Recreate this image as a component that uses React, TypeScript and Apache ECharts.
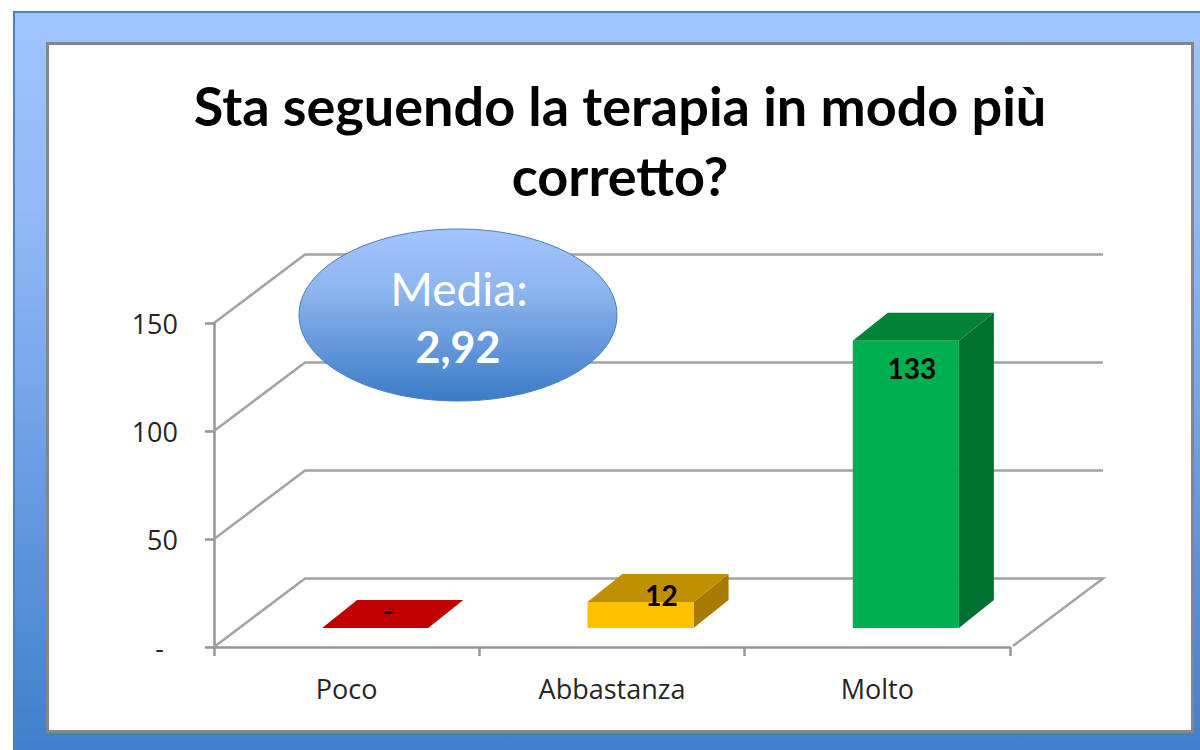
import React, { useEffect, useRef } from "react";
import * as echarts from "echarts";

const titleLines = ["Sta seguendo la terapia in modo più", "corretto?"];
const categories = ["Poco", "Abbastanza", "Molto"];
const values = [0, 12, 133];
const yTicks = [0, 50, 100, 150];
const calloutLabel = "Media:";
const calloutValue = "2,92";
const faceColors = [
  { front: "#c00000", top: "#c00000", side: "#900000" },
  { front: "#ffc000", top: "#bf9000", side: "#a67c00" },
  { front: "#00b050", top: "#008237", side: "#007030" },
];

const fmt = (v: number) => (v === 0 ? "-" : String(v));
const BODY = "'Open Sans', sans-serif";
const HEAD = "Lato, sans-serif";
const GRID = "#a3a3a3";
const AXIS = "#969696";

export default function App() {
  const ref = useRef<HTMLDivElement>(null);
  useEffect(() => {
    const chart = echarts.init(ref.current!, null, { renderer: "svg" });
    chart.setOption({
      animation: false,
      backgroundColor: "#ffffff",
      title: {
        text: titleLines.join("\n"),
        left: 615,
        top: 65,
        textAlign: "center",
        textStyle: { fontFamily: HEAD, fontSize: 54, fontWeight: "bold", color: "#000", lineHeight: 70 },
      },
      grid: { left: 214, right: 190, top: 323, bottom: 103 },
      xAxis: {
        type: "category",
        data: categories,
        axisLine: { lineStyle: { color: AXIS, width: 2.5 } },
        axisTick: { show: true, length: 9, lineStyle: { color: AXIS, width: 2.5 } },
        axisLabel: { margin: 28, fontFamily: BODY, fontSize: 27, color: "#262626" },
      },
      yAxis: {
        type: "value",
        min: 0,
        max: 150,
        interval: 50,
        splitLine: { show: false },
        axisLine: { show: true, lineStyle: { color: AXIS, width: 2.5 } },
        axisTick: { show: true, length: 9, lineStyle: { color: AXIS, width: 2.5 } },
        axisLabel: {
          margin: 36,
          fontFamily: BODY,
          fontSize: 27,
          color: "#262626",
          formatter: (v: number) => (v === 0 ? "{z|-}" : String(v)),
          rich: { z: { padding: [0, 14, 0, 0], fontFamily: BODY, fontSize: 27, color: "#262626" } },
        },
      },
      graphic: [
        {
          type: "rect",
          z: -20,
          silent: true,
          shape: { x: 14, y: 12, width: 1200, height: 760 },
          style: {
            fill: new echarts.graphic.LinearGradient(0, 0, 0, 1, [
              { offset: 0, color: "#9fc4ff" },
              { offset: 0.25, color: "#94baf7" },
              { offset: 1, color: "#3d7cca" },
            ]),
            stroke: "#4f81bd",
            lineWidth: 2,
          },
        },
        {
          type: "rect",
          z: -10,
          silent: true,
          shape: { x: 47.5, y: 43.5, width: 1145, height: 688 },
          style: { fill: "#ffffff", stroke: "#868686", lineWidth: 3 },
        },
        {
          type: "ellipse",
          z: 100,
          silent: true,
          shape: { cx: 458, cy: 315, rx: 159, ry: 86 },
          style: {
            fill: new echarts.graphic.LinearGradient(0, 0, 0, 1, [
              { offset: 0, color: "#a3c4ff" },
              { offset: 0.35, color: "#8fb6ee" },
              { offset: 1, color: "#3a7bc8" },
            ]),
            stroke: "#4a7ebb",
            lineWidth: 1,
          },
        },
        {
          type: "text",
          z: 101,
          silent: true,
          x: 459,
          y: 288,
          style: { text: calloutLabel, fill: "#fff", font: `400 46px ${HEAD}`, textAlign: "center", textVerticalAlign: "middle" },
        },
        {
          type: "text",
          z: 101,
          silent: true,
          x: 458,
          y: 346,
          style: { text: calloutValue, fill: "#fff", font: `700 43px ${HEAD}`, textAlign: "center", textVerticalAlign: "middle" },
        },
      ],
      series: [
        {
          name: "walls",
          type: "custom",
          z: 1,
          silent: true,
          data: yTicks.map((t) => [0, t]),
          encode: { x: 0, y: 1 },
          renderItem: (params: any, api: any) => {
            const cs = params.coordSys;
            const py = api.coord([0, api.value(1)])[1];
            const x0 = cs.x;
            const x1 = cs.x + cs.width;
            const pts = [
              [x0, py],
              [x0 + 91, py - 68.5],
              [x1 + 93, py - 68.5],
            ];
            if (api.value(1) === 0) pts.push([x1 + 3, py - 1]);
            return {
              type: "polyline",
              shape: { points: pts },
              style: { fill: "none", stroke: GRID, lineWidth: 2.5 },
            };
          },
        },
        {
          name: "values",
          type: "custom",
          z: 3,
          silent: true,
          data: values.map((v, i) => [i, v]),
          encode: { x: 0, y: 1 },
          renderItem: (params: any, api: any) => {
            const i = api.value(0);
            const v = api.value(1);
            const c = faceColors[i];
            const top = api.coord([i, v]);
            const base = api.coord([i, 0]);
            const w = api.size([1, 0])[0] * 0.4;
            const l = top[0] + 28.5 - w / 2;
            const r = l + w;
            const yb = base[1] - 19;
            const yt = top[1] - 19;
            const dx = 35;
            const dy = 28;
            const labelDx = v === 0 ? 13 : v < 30 ? 21 : 6;
            const labelDy = v === 0 ? -18 : v < 30 ? -7 : 27;
            return {
              type: "group",
              children: [
                {
                  type: "polygon",
                  shape: { points: [[r, yb], [r + dx, yb - dy], [r + dx, yt - dy], [r, yt]] },
                  style: { fill: c.side },
                },
                {
                  type: "polygon",
                  shape: { points: [[l, yt], [l + dx, yt - dy], [r + dx, yt - dy], [r, yt]] },
                  style: { fill: c.top },
                },
                {
                  type: "rect",
                  shape: { x: l, y: yt, width: w, height: yb - yt },
                  style: { fill: c.front },
                },
                {
                  type: "text",
                  x: (l + r) / 2 + labelDx,
                  y: yt + labelDy,
                  style: {
                    text: fmt(v),
                    fill: "#000",
                    font: `700 28px ${HEAD}`,
                    textAlign: "center",
                    textVerticalAlign: "middle",
                  },
                },
              ],
            };
          },
        },
      ],
    });
    return () => chart.dispose();
  }, []);
  return <div ref={ref} style={{ position: "fixed", left: 0, top: 0, width: 1200, height: 750 }} />;
}
